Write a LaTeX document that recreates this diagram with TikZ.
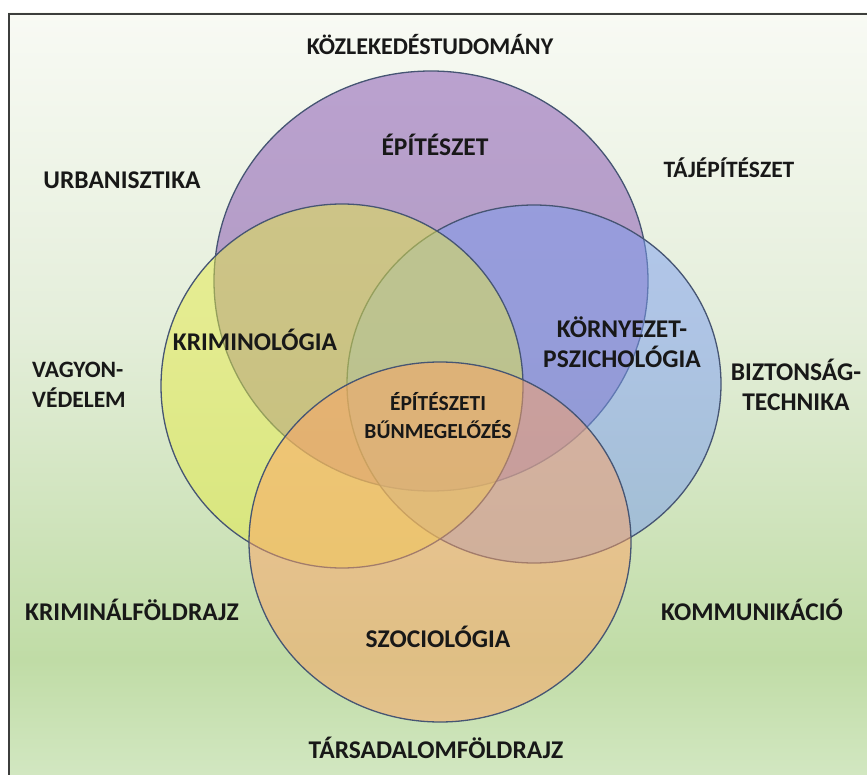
\documentclass[tikz,border=0pt]{standalone}
\usepackage{fontspec}
\setmainfont{Carlito}
\definecolor{bgtop}{RGB}{248,250,244}
\definecolor{bgmid}{RGB}{228,238,218}
\definecolor{bglow}{RGB}{192,220,166}
\definecolor{bgbot}{RGB}{210,231,193}
\definecolor{framec}{RGB}{60,62,60}
\definecolor{pc}{RGB}{130,76,176}
\definecolor{bc}{RGB}{122,156,240}
\definecolor{yc}{RGB}{228,234,70}
\definecolor{oc}{RGB}{255,163,100}
\definecolor{ringc}{RGB}{70,85,115}
\definecolor{labelc}{RGB}{24,24,24}
\begin{document}
\begin{tikzpicture}[x=1pt,y=-1pt,
  lbl/.style={font=\bfseries\fontsize{25.5}{30}\selectfont, text=labelc, align=center, inner sep=0pt},
  ring/.style={draw=ringc, line width=1.3pt, fill opacity=0.5}]
\useasboundingbox (0,0) rectangle (867,775);
\clip (0,0) rectangle (867,775);
\fill[white] (0,0) rectangle (867,775);
% background gradient
\shade[top color=bgtop, bottom color=bgmid] (8,13) rectangle (867,330);
\shade[top color=bgmid, bottom color=bglow] (8,330) rectangle (867,660);
\shade[top color=bglow, bottom color=bgbot] (8,660) rectangle (867,775);
\draw[framec, line width=2pt] (9,800) -- (9,14) -- (900,14);
% circles
\path[ring, fill=pc] (431,281) ellipse [x radius=217pt, y radius=210pt];
\path[ring, fill=bc] (534,384) ellipse [x radius=187pt, y radius=179pt];
\path[ring, fill=yc] (342,386) ellipse [x radius=181pt, y radius=182pt];
\path[ring, fill=oc] (440,542) ellipse [x radius=191pt, y radius=180pt];
% labels
\node[lbl, font=\bfseries\fontsize{24}{30}\selectfont] (kozl) at (430,45) {KÖZLEKEDÉSTUDOMÁNY};
\node[lbl] (epit) at (435,145) {ÉPÍTÉSZET};
\node[lbl] (urb) at (122,180) {URBANISZTIKA};
\node[lbl, font=\bfseries\fontsize{23.5}{30}\selectfont] (taj) at (729,168) {TÁJÉPÍTÉSZET};
\node[lbl] (krim) at (255,340) {KRIMINOLÓGIA};
\node[lbl] (korny) at (622,342) {KÖRNYEZET-\\PSZICHOLÓGIA};
\node[lbl, align=left, anchor=west, font=\bfseries\fontsize{23.5}{30}\selectfont] (vagy) at (32,385) {VAGYON-\\VÉDELEM};
\node[lbl] (bizt) at (796,385) {BIZTONSÁG-\\TECHNIKA};
\node[lbl, font=\bfseries\fontsize{21.5}{28}\selectfont] (epbun) at (438,416) {ÉPÍTÉSZETI\\BŰNMEGELŐZÉS};
\node[lbl] (kriminal) at (132,610) {KRIMINÁLFÖLDRAJZ};
\node[lbl] (szoc) at (438,637) {SZOCIOLÓGIA};
\node[lbl] (komm) at (752,610) {KOMMUNIKÁCIÓ};
\node[lbl] (tars) at (436,748) {TÁRSADALOMFÖLDRAJZ};
\end{tikzpicture}
\end{document}
